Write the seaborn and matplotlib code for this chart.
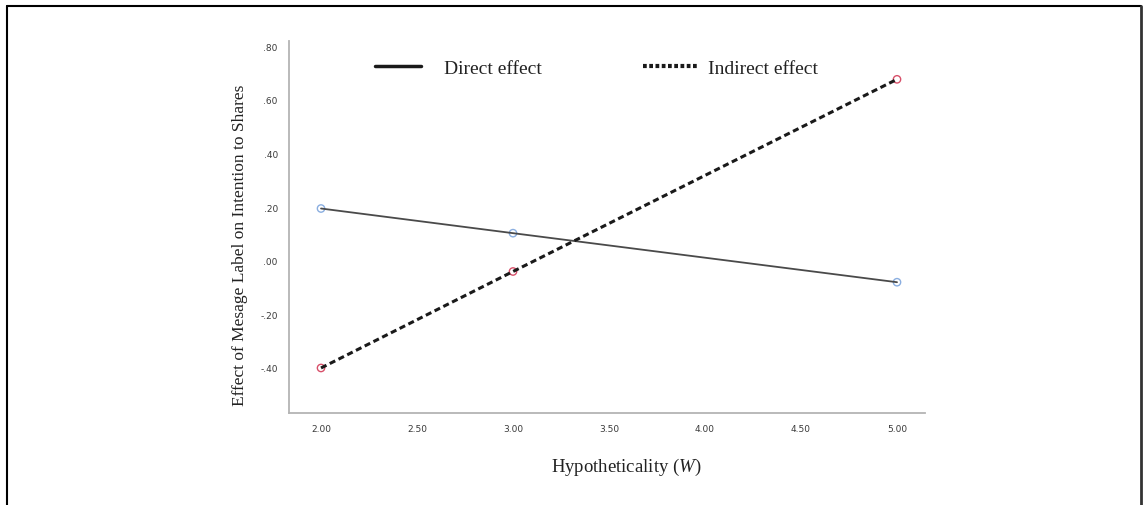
import numpy as np
import pandas as pd
import seaborn as sns
import matplotlib.pyplot as plt
from matplotlib.lines import Line2D

# data
hypo = [2.0, 3.0, 5.0]
direct_effect = [0.195, 0.103, -0.080]
indirect_effect = [-0.400, -0.040, 0.677]
x_ticks = [2.0, 2.5, 3.0, 3.5, 4.0, 4.5, 5.0]
y_ticks = [-0.4, -0.2, 0.0, 0.2, 0.4, 0.6, 0.8]

df = pd.DataFrame({
    'W': hypo + hypo,
    'effect': direct_effect + indirect_effect,
    'kind': ['Direct effect'] * 3 + ['Indirect effect'] * 3,
})

sns.set_style('white')
plt.rcParams['font.family'] = ['DejaVu Sans']
plt.rcParams['mathtext.fontset'] = 'custom'
plt.rcParams['mathtext.rm'] = 'Liberation Serif'
plt.rcParams['mathtext.it'] = 'Liberation Serif:italic'

fig = plt.figure(figsize=(11.43, 5.06), dpi=100)
ax = fig.add_axes([0.2528, 0.1818, 0.8093 - 0.2528, 0.917 - 0.1818])

# lines
sns.lineplot(data=df[df.kind == 'Direct effect'], x='W', y='effect', color='#4a4a4a',
             linewidth=1.3, ax=ax, legend=False)
sns.lineplot(data=df[df.kind == 'Indirect effect'], x='W', y='effect', color='#1a1a1a',
             linewidth=2.2, linestyle=(0, (2.0, 1.2)), ax=ax, legend=False)
# open circle markers
sns.scatterplot(data=df, x='W', y='effect', hue='kind',
                palette={'Direct effect': '#8aaee0', 'Indirect effect': '#d8506a'},
                marker='o', s=28, linewidth=1.0, ax=ax, legend=False)
for coll in ax.collections:
    coll.set_facecolor('none')
    coll.set_edgecolor(['#8aaee0'] * 3 + ['#d8506a'] * 3)

ax.set_xlim(1.833, 5.146)
ax.set_ylim(-0.568, 0.82)
ax.set_xticks(x_ticks)
ax.set_xticklabels(['%.2f' % v for v in x_ticks])
ax.set_yticks(y_ticks)
ax.set_yticklabels([('%.2f' % v).replace('0.', '.') for v in y_ticks])
ax.tick_params(axis='both', length=0, labelsize=6.5, labelcolor='#3a3a3a', pad=8)

sns.despine(ax=ax)
for s in ['left', 'bottom']:
    ax.spines[s].set_color('#b4b4b4')
    ax.spines[s].set_linewidth(1.3)

ax.set_xlabel('Hypotheticality ($\\mathit{W}$)', family='Liberation Serif', fontsize=13.5,
              color='#222222')
ax.xaxis.set_label_coords(0.53, -0.115)
ax.set_ylabel('Effect of Mesage Label on Intention to Shares', family='Liberation Serif',
              fontsize=12.5, color='#222222')
ax.yaxis.set_label_coords(-0.077, 0.453)
ax.yaxis.label.set_va('center')

# legend, two separate entries
leg_font = {'family': 'Liberation Serif', 'size': 14}
leg1 = fig.legend([Line2D([], [], color='#1a1a1a', linewidth=2.5)], ['Direct effect'],
                  loc='center left', bbox_to_anchor=(375 / 1143, 1 - 69 / 506),
                  frameon=False, borderpad=0, borderaxespad=0, handlelength=2.35,
                  handletextpad=1.2, prop=leg_font)
leg2 = fig.legend([Line2D([], [], color='#1a1a1a', linewidth=3, linestyle=(0, (0.9, 0.6)))],
                  ['Indirect effect'],
                  loc='center left', bbox_to_anchor=(643 / 1143, 1 - 69 / 506),
                  frameon=False, borderpad=0, borderaxespad=0, handlelength=2.9,
                  handletextpad=0.45, prop=leg_font)
for leg in (leg1, leg2):
    for t in leg.get_texts():
        t.set_color('#222222')

# outer frame lines
fig.add_artist(Line2D([7 / 1143, 1141 / 1143], [1 - 7 / 506, 1 - 7 / 506], color='black',
                      linewidth=1.5, transform=fig.transFigure))
fig.add_artist(Line2D([7 / 1143, 7 / 1143], [0, 1 - 7 / 506], color='black', linewidth=1.5,
                      transform=fig.transFigure))
fig.add_artist(Line2D([1141 / 1143, 1141 / 1143], [0, 1 - 7 / 506], color='#333333',
                      linewidth=2, transform=fig.transFigure))

plt.savefig('out.png', dpi=100)
